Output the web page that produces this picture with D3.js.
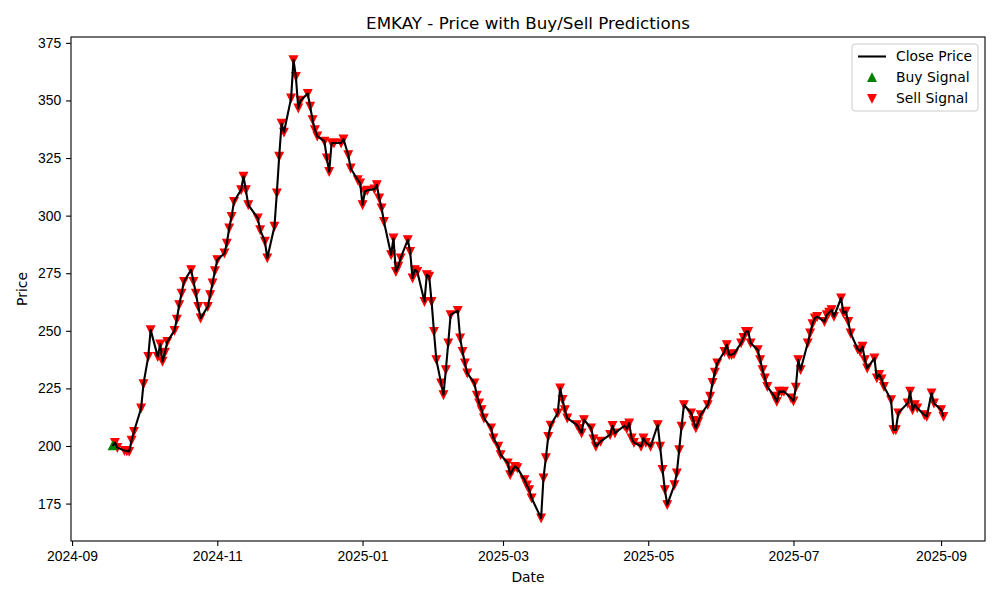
<!DOCTYPE html>
<html>
<head>
<meta charset="utf-8">
<script src="https://cdn.jsdelivr.net/npm/d3@7"></script>
<style>
  body { margin: 0; background: #fff; }
  svg { font-family: "DejaVu Sans", sans-serif; }
  .tick text { font-size: 13.9px; fill: #000; }
</style>
</head>
<body>
<div id="chart"></div>
<script>
// trading calendar (NSE): weekdays between first and last day, minus holidays
const firstDay = '2024-09-18';
const lastDay = '2025-09-02';
const holidays = [
  '2024-10-02', '2024-11-15', '2024-11-20', '2024-12-25', '2025-02-26',
  '2025-03-14', '2025-03-31', '2025-04-10', '2025-04-14', '2025-04-18',
  '2025-05-01', '2025-08-15', '2025-08-27',
];
const extraSessions = ['2025-02-01']; // budget day, saturday session

// close prices, one row per week
const closePrices = [
  200.1, 201.5, 199.3,
  198.0, 197.8, 197.6, 202.5, 206.3,
  216.4, 227.0, 238.8, 250.4,
  238.8, 244.2, 236.7, 240.6, 245.3,
  250.1, 255.0, 261.3, 266.3, 271.4,
  276.5, 271.4, 266.3, 260.5, 255.5,
  260.5, 265.6, 270.7, 276.0, 280.8,
  283.7, 288.0, 294.6, 299.6, 306.1,
  311.2, 317.0, 311.2, 304.7,
  298.9, 293.8, 288.8, 281.6,
  295.3, 309.8, 325.7, 340.1, 336.2,
  351.0, 367.6, 360.4, 346.7, 350.0,
  353.0, 347.4, 341.6, 337.2, 334.5,
  332.2, 325.0, 319.1, 331.5, 331.5,
  331.5, 333.2, 326.4, 320.6,
  315.5, 314.1, 304.7, 310.5, 311.0,
  311.5, 313.4, 307.6, 303.3, 297.4,
  283.0, 290.2, 275.7, 278.0, 281.6,
  289.5, 284.4, 272.9, 276.5, 275.7,
  262.7, 274.3, 273.6, 262.7, 249.7, 237.4,
  227.3, 222.2, 233.1, 244.7, 256.9,
  258.8, 246.8, 241.0, 236.0, 231.6,
  227.3, 222.0, 218.6, 215.7, 212.1,
  207.8, 203.4, 199.8, 196.2,
  192.6, 187.5, 189.5, 191.1, 190.5,
  185.3, 183.0, 181.0, 177.4,
  168.7, 186.1, 194.8, 204.1, 209.0,
  214.3, 225.1, 220.1, 215.7, 212.1,
  209.2, 207.5, 205.6, 211.4,
  207.8, 203.0, 199.8, 202.0,
  204.9, 208.8, 205.6,
  208.8, 207.5, 209.9, 203.4, 201.5,
  199.8, 203.4, 201.5, 199.8,
  209.2, 199.8, 189.7, 181.0, 174.5,
  183.1, 188.2, 198.3, 208.5, 217.9,
  214.3, 211.0, 207.8, 210.5, 213.5,
  217.9, 221.5, 227.5, 232.0, 236.0,
  241.0, 243.9, 239.6, 239.6, 240.0,
  244.7, 247.0, 249.7, 249.7, 244.7,
  241.7, 237.4, 233.1, 229.5, 225.8,
  221.5, 219.3, 223.7, 223.5, 223.7,
  220.8, 219.5, 225.5, 237.4, 233.1,
  244.7, 249.0, 253.0, 255.5, 256.2,
  254.0, 256.9, 258.0, 259.1, 256.2,
  264.2, 257.7, 258.4, 254.0, 249.0,
  242.0, 241.0, 243.2, 237.4, 233.8,
  238.1, 229.5, 231.0, 229.0, 225.8,
  220.0, 207.0, 207.0, 214.3,
  218.6, 223.7, 215.7, 217.9, 216.5,
  213.5, 212.8, 223.0, 218.6,
  215.7, 212.8,
];

// predicted signals: buy days listed, every other day is a sell
const buyDays = ['2024-09-18'];

const yTicks = [175, 200, 225, 250, 275, 300, 325, 350, 375];

const width = 1000;
const height = 600;
const margin = { top: 37, right: 15, bottom: 59, left: 71 };

const parseDate = d3.timeParse('%Y-%m-%d');
const fmtDay = d3.timeFormat('%Y-%m-%d');

const holidaySet = new Set(holidays);
const tradingDays = d3.timeDay
  .range(parseDate(firstDay), d3.timeDay.offset(parseDate(lastDay), 1))
  .filter(d => d.getDay() !== 0 && d.getDay() !== 6 && !holidaySet.has(fmtDay(d)))
  .concat(extraSessions.map(parseDate))
  .sort(d3.ascending);

const n = Math.min(tradingDays.length, closePrices.length);
const data = d3.range(n).map(i => ({
  date: tradingDays[i],
  close: closePrices[i],
  buy: buyDays.includes(fmtDay(tradingDays[i])),
}));

const svg = d3.select('#chart')
  .append('svg')
  .attr('width', width)
  .attr('height', height);

const innerW = width - margin.left - margin.right;
const innerH = height - margin.top - margin.bottom;

// matplotlib style 5% padding on both axes
const [t0, t1] = d3.extent(data, d => +d.date);
const tPad = (t1 - t0) * 0.05;
const [v0, v1] = d3.extent(data, d => d.close);
const vPad = (v1 - v0) * 0.05;

const x = d3.scaleTime()
  .domain([new Date(t0 - tPad), new Date(t1 + tPad)])
  .range([0, innerW]);

const y = d3.scaleLinear()
  .domain([v0 - vPad, v1 + vPad])
  .range([innerH, 0]);

const plot = svg.append('g')
  .attr('transform', `translate(${margin.left},${margin.top})`);

plot.append('g')
  .attr('class', 'axis x')
  .attr('transform', `translate(0,${innerH})`)
  .call(d3.axisBottom(x)
    .ticks(d3.timeMonth.every(2))
    .tickFormat(d3.timeFormat('%Y-%m'))
    .tickSize(4.9)
    .tickPadding(4.9))
  .call(g => g.select('.domain').remove())
  .call(g => g.selectAll('.tick line').attr('stroke-width', 1.1))
  .call(g => g.selectAll('.tick text').attr('dy', '0.75em'));

plot.append('g')
  .attr('class', 'axis y')
  .call(d3.axisLeft(y)
    .tickValues(yTicks)
    .tickSize(4.9)
    .tickPadding(4.9))
  .call(g => g.select('.domain').remove())
  .call(g => g.selectAll('.tick line').attr('stroke-width', 1.1));

// markers sit under the line, like matplotlib collections do
const h = 4;
const downTri = `M0,${h}L${-h},${-h}L${h},${-h}Z`;
const upTri = `M0,${-h}L${-h},${h}L${h},${h}Z`;

plot.selectAll('path.sell')
  .data(data.filter(d => !d.buy))
  .join('path')
  .attr('class', 'sell')
  .attr('d', downTri)
  .attr('transform', d => `translate(${x(d.date)},${y(d.close)})`)
  .attr('fill', '#ff0000')
  .attr('stroke', '#ff0000')
  .attr('stroke-width', 1.2);

plot.selectAll('path.buy')
  .data(data.filter(d => d.buy))
  .join('path')
  .attr('class', 'buy')
  .attr('d', upTri)
  .attr('transform', d => `translate(${x(d.date)},${y(d.close)})`)
  .attr('fill', '#008000')
  .attr('stroke', '#008000')
  .attr('stroke-width', 1.2);

plot.append('path')
  .datum(data)
  .attr('fill', 'none')
  .attr('stroke', '#000')
  .attr('stroke-width', 2.1)
  .attr('stroke-linejoin', 'round')
  .attr('d', d3.line().x(d => x(d.date)).y(d => y(d.close)));

// frame
plot.append('rect')
  .attr('width', innerW)
  .attr('height', innerH)
  .attr('fill', 'none')
  .attr('stroke', '#000')
  .attr('stroke-width', 1.1);

svg.append('text')
  .attr('x', margin.left + innerW / 2)
  .attr('y', 29)
  .attr('text-anchor', 'middle')
  .style('font-size', '16.7px')
  .text('EMKAY - Price with Buy/Sell Predictions');

svg.append('text')
  .attr('x', margin.left + innerW / 2)
  .attr('y', 582)
  .attr('text-anchor', 'middle')
  .style('font-size', '13.9px')
  .text('Date');

svg.append('text')
  .attr('transform', `translate(27,${margin.top + innerH / 2}) rotate(-90)`)
  .attr('text-anchor', 'middle')
  .style('font-size', '13.9px')
  .text('Price');

// legend
const legend = svg.append('g')
  .attr('transform', 'translate(852,44)');

legend.append('rect')
  .attr('width', 126)
  .attr('height', 67)
  .attr('rx', 3)
  .attr('fill', '#fff')
  .attr('fill-opacity', 0.8)
  .attr('stroke', '#cccccc');

const legendItems = [
  { label: 'Close Price', kind: 'line' },
  { label: 'Buy Signal', kind: 'buy' },
  { label: 'Sell Signal', kind: 'sell' },
];

const item = legend.selectAll('g.item')
  .data(legendItems)
  .join('g')
  .attr('class', 'item')
  .attr('transform', (d, i) => `translate(0,${12.5 + i * 21})`);

item.filter(d => d.kind === 'line')
  .append('line')
  .attr('x1', 6).attr('x2', 34)
  .attr('stroke', '#000')
  .attr('stroke-width', 2.1);

item.filter(d => d.kind !== 'line')
  .append('path')
  .attr('transform', 'translate(20,0)')
  .attr('d', d => (d.kind === 'buy' ? upTri : downTri))
  .attr('fill', d => (d.kind === 'buy' ? '#008000' : '#ff0000'))
  .attr('stroke', d => (d.kind === 'buy' ? '#008000' : '#ff0000'))
  .attr('stroke-width', 1.2);

item.append('text')
  .attr('x', 44)
  .attr('dy', '0.35em')
  .style('font-size', '13.9px')
  .text(d => d.label);
</script>
</body>
</html>
